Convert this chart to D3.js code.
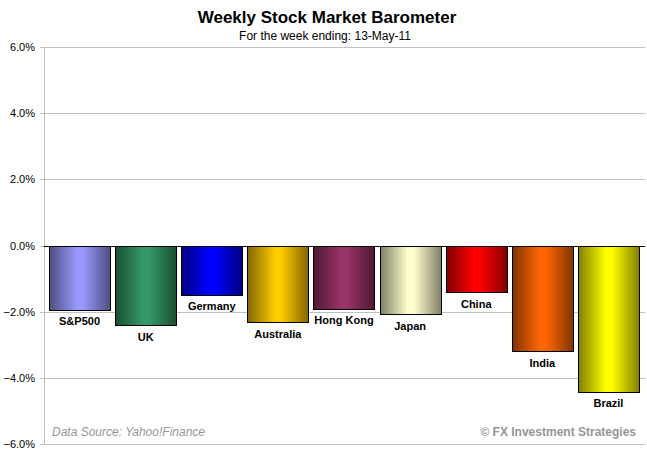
<!DOCTYPE html>
<html><head><meta charset="utf-8">
<script src="https://cdn.jsdelivr.net/npm/d3@7"></script>
<style>body{margin:0;background:#fff}svg{display:block}text{font-family:Arial,"Liberation Sans",sans-serif}</style>
</head><body><svg id="c" width="647" height="458"></svg>
<script>
const categories = ["S&P500","UK","Germany","Australia","Hong Kong","Japan","China","India","Brazil"];
const values = [-1.92,-2.40,-1.48,-2.30,-1.89,-2.07,-1.40,-3.18,-4.40];
const colors = ["#9999ff","#339966","#0000ff","#ffcc00","#993366","#ffffcc","#ff0000","#ff6600","#ffff00"];
const tickValues = [6,4,2,0,-2,-4,-6];

const svg = d3.select("#c");
const x0 = 44, x1 = 645;
const y = d3.scaleLinear().domain([-6,6]).range([444,47]);
const x = d3.scaleBand().domain(categories).range([44,644]).paddingInner(0.077).paddingOuter(0.076);

// gradients
const defs = svg.append("defs");
colors.forEach((c,i)=>{
  const g = defs.append("linearGradient").attr("id","g"+i).attr("x1","0%").attr("x2","100%").attr("y1","0%").attr("y2","0%");
  const dark = d3.interpolateRgb(c,"#000")(0.5);
  g.append("stop").attr("offset","0%").attr("stop-color",dark);
  g.append("stop").attr("offset","45%").attr("stop-color",c);
  g.append("stop").attr("offset","55%").attr("stop-color",c);
  g.append("stop").attr("offset","100%").attr("stop-color",dark);
});

// grid
svg.append("g").selectAll("line").data(tickValues).join("line")
  .attr("x1",x0-4).attr("x2",x1).attr("y1",d=>Math.round(y(d))+0.5).attr("y2",d=>Math.round(y(d))+0.5)
  .attr("stroke","#c0c0c0").attr("stroke-width",1);
svg.append("line").attr("x1",x0+0.5).attr("x2",x0+0.5).attr("y1",y(6)).attr("y2",y(-6)+1).attr("stroke","#c0c0c0");

// y labels
svg.append("g").selectAll("text").data(tickValues).join("text")
  .attr("x",35).attr("y",d=>y(d)+4).attr("text-anchor","end").attr("font-size",11).attr("fill","#000")
  .text(d=>d3.format(".1f")(d)+"%");

// bars
svg.append("g").selectAll("rect").data(values).join("rect")
  .attr("x",(d,i)=>Math.round(x(categories[i]))+0.5)
  .attr("y",d=>Math.round(y(Math.max(0,d)))+0.5)
  .attr("width",Math.round(x.bandwidth()))
  .attr("height",d=>Math.round(Math.abs(y(d)-y(0))))
  .attr("fill",(d,i)=>"url(#g"+i+")").attr("stroke","#000").attr("stroke-width",1);

// zero line
svg.append("line").attr("x1",x0).attr("x2",x1).attr("y1",Math.round(y(0))+0.5).attr("y2",Math.round(y(0))+0.5).attr("stroke","#000");

// labels
svg.append("g").selectAll("text").data(values).join("text")
  .attr("x",(d,i)=>x(categories[i])+x.bandwidth()/2)
  .attr("y",d=>y(d)+16).attr("text-anchor","middle").attr("font-size",11).attr("font-weight","bold").attr("fill","#000")
  .text((d,i)=>categories[i]);

// titles
svg.append("text").attr("x",327).attr("y",23).attr("text-anchor","middle").attr("font-size",17).attr("font-weight","bold").text("Weekly  Stock  Market  Barometer");
svg.append("text").attr("x",325).attr("y",40).attr("text-anchor","middle").attr("font-size",12).text("For the week ending:  13-May-11");

svg.append("text").attr("x",52).attr("y",436).attr("font-size",12).attr("font-style","italic").attr("fill","#969696").text("Data Source: Yahoo!Finance");
svg.append("text").attr("x",636).attr("y",436).attr("text-anchor","end").attr("font-size",12).attr("font-weight","bold").attr("fill","#969696").text("©  FX Investment Strategies");
</script></body></html>
